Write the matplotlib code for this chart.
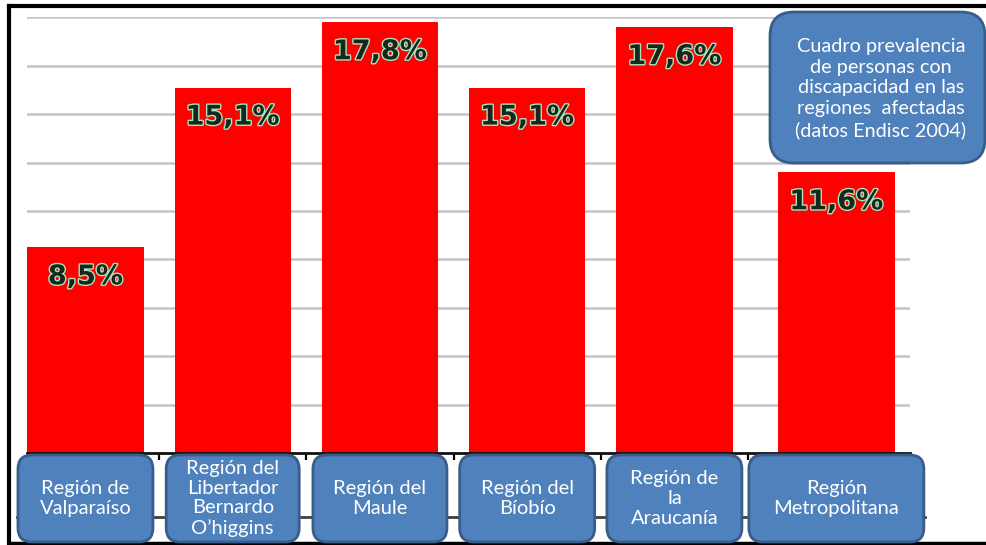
import numpy as np
import matplotlib
matplotlib.use('Agg')
from matplotlib import pyplot as plt
from matplotlib.patches import FancyBboxPatch
from matplotlib.lines import Line2D
import matplotlib.patheffects as pe

regions = [
    'Región de\nValparaíso',
    'Región del\nLibertador\nBernardo\nO\u2019higgins',
    'Región del\nMaule',
    'Región del\nBíobío',
    'Región de\nla\nAraucanía',
    'Región\nMetropolitana',
]
prevalence = [8.5, 15.1, 17.8, 15.1, 17.6, 11.6]
value_labels = ['8,5%', '15,1%', '17,8%', '15,1%', '17,6%', '11,6%']
note = ('Cuadro prevalencia\nde personas con\ndiscapacidad en las\n'
        'regiones  afectadas\n(datos Endisc 2004)')

W, H = 987, 545
fig = plt.figure(figsize=(W / 100, H / 100), dpi=100)
fig.patch.set_facecolor('white')

# axes placed in pixel terms
left, right, base, top = 27, 910, 453, 17.4
ax = fig.add_axes([left / W, (H - base) / H, (right - left) / W, (base - top) / H])

x = np.arange(len(regions), dtype=float)
x[-1] += 0.1  # last column sits a bit further right in the original
ax.bar(x, prevalence, width=0.79, color='#ff0000', zorder=2)

for xi, v, lab in zip(x, prevalence, value_labels):
    ax.annotate(lab, (xi, v), xytext=(0, -30), textcoords='offset pixels',
                ha='center', va='center', fontsize=19.5, fontweight='bold',
                family='DejaVu Sans', color='#15281c', zorder=4,
                path_effects=[pe.Stroke(linewidth=2, foreground='#a9e4bd'),
                              pe.Normal()])

ax.set_xlim(-0.397, 5.6)
ax.set_ylim(0, 18)
ax.set_yticks(np.arange(2, 19, 2))
ax.yaxis.grid(True, color='#c4c4c4', linewidth=1.8, zorder=0)
ax.set_axisbelow(True)
ax.tick_params(axis='y', length=0, labelleft=False)
ax.set_xticks(np.arange(0.5, 5, 1))
ax.tick_params(axis='x', direction='out', length=5, width=1.6, color='black',
               labelbottom=False)
for s in ['left', 'right', 'top']:
    ax.spines[s].set_visible(False)
ax.spines['bottom'].set_linewidth(2)
ax.spines['bottom'].set_color('#111111')

# frame lines of the slide
def fig_line(xs, ys, lw, color):
    fig.add_artist(Line2D([v / W for v in xs], [(H - v) / H for v in ys],
                          transform=fig.transFigure, linewidth=lw, color=color))

fig_line([9, W], [6, 6], 3, 'black')
fig_line([9, 9], [6, 543], 3, 'black')
fig_line([9, W], [543, 543], 2.5, 'black')
fig_line([17, 925], [517, 517], 2, '#404040')

fig.canvas.draw()
to_px = ax.transData

# category boxes below the axis
box_w = [135, 133, 134, 135, 135, 175]
for xi, label, bw in zip(x, regions, box_w):
    cx = to_px.transform((xi, 0))[0]
    box = FancyBboxPatch((cx - bw / 2 + 8, 3 + 8), bw - 16, 87 - 16,
                         boxstyle='round,pad=8,rounding_size=14',
                         transform=None, facecolor='#4f81bd',
                         edgecolor='#385d8a', linewidth=2, zorder=5)
    fig.add_artist(box)
    fig.text(cx / W, (H - 498.5) / H, label, ha='center', va='center',
             color='white', fontsize=14.5, family='Lato', linespacing=1.19,
             zorder=6)

# note box
nb = FancyBboxPatch((770 + 10, H - 163 + 10), 215 - 20, 151 - 20,
                    boxstyle='round,pad=10,rounding_size=24', transform=None,
                    facecolor='#4f81bd', edgecolor='#385d8a', linewidth=2,
                    zorder=5)
fig.add_artist(nb)
fig.text(881 / W, (H - 88.5) / H, note, ha='center', va='center',
         color='white', fontsize=14.3, family='Lato', linespacing=1.26,
         zorder=6)

fig.savefig('out.png', dpi=100, facecolor='white')
